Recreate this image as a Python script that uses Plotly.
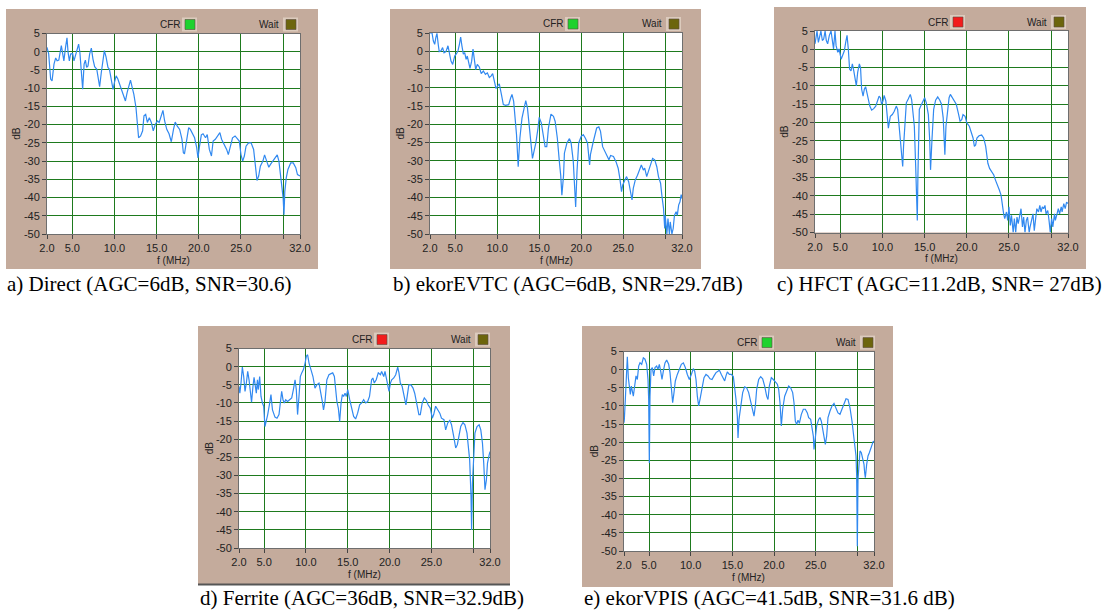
import plotly.graph_objects as go

W, H = 1106, 613

# ---------------- data (f in MHz, level in dB) ----------------
spec_a = [(2.0,1.2),(2.2,-0.6),(2.43,-7.5),(2.6,-8.0),(2.83,-3.4),(3.03,-1.7),(3.2,-2.5),(3.4,-2.3),
 (3.7,1.65),(3.86,-1.1),(4.0,-2.5),(4.2,1.2),(4.37,3.8),(4.5,-0.2),(4.65,-2.5),(4.8,-0.6),(5.04,-0.5),
 (5.2,-2.5),(5.44,-0.6),(5.75,2.1),(5.9,-0.2),(6.07,-6.1),(6.23,-10.3),(6.4,-3.4),(6.55,-2.3),(6.7,-4.3),
 (6.86,-3.9),(7.06,-0.6),(7.26,1.0),(7.45,-2.0),(7.65,-4.1),(7.9,-4.8),(8.1,-8.0),(8.24,-9.6),(8.44,-5.7),
 (8.64,-2.0),(8.8,0.3),(9.0,-1.4),(9.23,-4.3),(9.4,-4.8),(9.63,-7.5),(9.83,-10.3),(10.0,-8.4),(10.2,-6.6),
 (10.4,-7.5),(10.7,-9.4),(11.05,-12.1),(11.3,-13.5),(11.5,-11.2),(11.76,-8.4),(11.9,-7.8),(12.1,-9.8),
 (12.3,-11.7),(12.55,-15.3),(12.7,-20.8),(12.86,-23.6),(13.1,-23.1),(13.34,-21.7),(13.5,-17.6),(13.7,-17.2),
 (13.9,-19.4),(14.13,-18.1),(14.37,-19.4),(14.6,-21.7),(14.85,-19.9),(15.1,-19.0),(15.3,-19.4),(15.56,-17.2),
 (15.75,-16.1),(15.95,-19.0),(16.2,-21.3),(16.47,-22.5),(16.74,-24.7),(17.0,-21.3),(17.2,-19.3),(17.45,-20.4),
 (17.73,-21.3),(18.0,-24.0),(18.17,-27.7),(18.3,-28.0),(18.56,-24.5),(18.8,-20.8),(19.0,-21.3),(19.27,-22.7),
 (19.5,-23.6),(19.75,-26.3),(19.9,-29.1),(20.06,-26.3),(20.3,-22.8),(20.5,-22.5),(20.8,-23.6),(21.0,-22.7),
 (21.25,-26.8),(21.5,-28.6),(21.7,-24.5),(21.96,-24.0),(22.2,-23.1),(22.5,-22.2),(22.7,-24.0),(23.0,-25.4),
 (23.3,-26.8),(23.5,-28.2),(23.7,-26.3),(24.0,-23.6),(24.3,-23.1),(24.6,-23.8),(24.8,-24.5),(25.0,-28.2),
 (25.2,-30.0),(25.4,-28.6),(25.6,-25.9),(25.9,-25.0),(26.2,-25.0),(26.5,-26.8),(26.7,-31.8),(26.9,-35.3),
 (27.1,-34.1),(27.3,-31.4),(27.6,-30.0),(27.8,-28.3),(28.05,-30.0),(28.3,-31.7),(28.5,-30.9),(28.75,-30.0),
 (29.07,-28.9),(29.3,-28.3),(29.5,-30.0),(29.7,-33.7),(29.85,-36.0),(30.0,-40.1),(30.1,-44.7),(30.2,-38.3),
 (30.37,-34.6),(30.57,-32.3),(30.9,-30.5),(31.2,-30.5),(31.5,-31.8),(31.7,-33.7),(32.0,-34.1)]

spec_b = [(2.0,5.0),(2.24,5.0),(2.4,2.8),(2.56,1.9),(2.7,3.8),(2.83,4.9),(3.0,1.5),(3.1,-0.1),(3.3,0.1),
 (3.5,1.0),(3.67,-0.4),(3.9,-0.1),(4.14,1.5),(4.3,-0.4),(4.5,-2.7),(4.7,-3.6),(4.94,-1.3),(5.17,-0.6),
 (5.33,0.1),(5.5,1.9),(5.65,3.9),(5.8,1.5),(5.97,-0.8),(6.13,-0.4),(6.3,-2.2),(6.44,-1.3),(6.6,-3.1),
 (6.76,-4.7),(6.96,-2.7),(7.12,0.6),(7.28,-2.2),(7.44,-5.0),(7.63,-3.6),(7.87,-4.3),(8.1,-6.1),(8.35,-5.4),
 (8.6,-6.3),(8.83,-5.9),(9.06,-7.2),(9.26,-6.8),(9.46,-6.1),(9.66,-8.2),(9.86,-10.2),(10.05,-9.5),
 (10.25,-8.9),(10.5,-11.8),(10.73,-14.6),(11.0,-14.8),(11.37,-14.6),(11.6,-12.8),(11.76,-11.8),(11.96,-13.7),
 (12.16,-18.3),(12.3,-22.8),(12.5,-31.6),(12.7,-23.8),(12.95,-18.3),(13.2,-15.0),(13.4,-13.5),(13.6,-15.5),
 (13.8,-20.1),(14.06,-24.7),(14.2,-29.3),(14.38,-27.4),(14.6,-25.1),(14.86,-21.0),(15.0,-18.1),(15.25,-19.6),
 (15.5,-22.8),(15.7,-26.1),(15.9,-26.1),(16.1,-21.0),(16.4,-17.2),(16.7,-17.8),(16.9,-19.2),(17.16,-23.8),
 (17.4,-30.2),(17.56,-33.9),(17.7,-39.4),(17.9,-33.9),(18.0,-27.9),(18.3,-25.1),(18.6,-23.9),(18.8,-25.1),
 (19.06,-30.2),(19.2,-36.6),(19.34,-42.6),(19.5,-32.9),(19.7,-25.1),(20.0,-23.3),(20.25,-22.8),(20.5,-23.8),
 (20.75,-25.1),(21.0,-31.1),(21.1,-28.3),(21.4,-25.1),(21.6,-22.8),(21.84,-21.0),(22.1,-20.7),(22.3,-21.9),
 (22.55,-26.1),(22.8,-27.4),(23.0,-28.3),(23.3,-29.7),(23.5,-28.5),(23.84,-28.8),(24.14,-30.2),(24.4,-32.0),
 (24.6,-34.8),(24.8,-38.4),(24.94,-36.6),(25.2,-35.2),(25.4,-34.3),(25.65,-35.7),(25.9,-39.4),(26.05,-40.7),
 (26.2,-37.5),(26.44,-35.2),(26.7,-33.9),(26.9,-32.5),(27.16,-31.1),(27.4,-32.5),(27.56,-32.0),(27.8,-34.3),
 (28.03,-32.5),(28.27,-30.6),(28.5,-29.3),(28.75,-29.7),(29.0,-31.6),(29.2,-34.3),(29.45,-36.1),(29.6,-39.4),
 (29.8,-43.0),(29.94,-48.5),(30.0,-44.9),(30.2,-50.0),(30.33,-45.8),(30.5,-50.0),(30.6,-46.7),(30.8,-50.0),
 (30.95,-48.5),(31.1,-44.9),(31.3,-43.9),(31.44,-44.9),(31.6,-42.1),(31.76,-41.2),(31.9,-39.2),(32.0,-40.3)]

spec_c = [(2.0,1.5),(2.1,2.8),(2.24,5.0),(2.4,1.9),(2.55,3.8),(2.7,5.0),(2.87,2.4),(3.03,2.8),(3.2,5.0),
 (3.34,2.4),(3.5,1.5),(3.7,3.8),(3.9,5.0),(4.05,1.5),(4.2,0.1),(4.37,5.0),(4.5,1.0),(4.7,-0.8),(4.85,0.1),
 (5.1,-2.7),(5.24,-1.7),(5.48,-0.4),(5.64,1.9),(5.8,3.8),(5.95,0.1),(6.1,-5.4),(6.27,-5.9),(6.43,-4.0),
 (6.6,-5.9),(6.74,-8.6),(6.9,-10.0),(7.06,-6.3),(7.26,-4.0),(7.4,-5.0),(7.53,-10.9),(7.7,-12.8),(7.85,-10.9),
 (8.0,-10.2),(8.25,-12.8),(8.5,-15.5),(8.72,-16.6),(8.96,-16.2),(9.2,-15.5),(9.43,-14.1),(9.6,-12.8),
 (9.75,-13.2),(9.9,-15.0),(10.06,-14.1),(10.2,-12.6),(10.4,-14.1),(10.55,-18.3),(10.7,-21.5),(10.93,-18.3),
 (11.17,-17.8),(11.4,-16.9),(11.64,-15.5),(11.8,-16.4),(11.96,-21.0),(12.1,-25.6),(12.28,-29.3),(12.4,-32.0),
 (12.5,-26.5),(12.67,-19.2),(12.83,-14.6),(13.07,-13.5),(13.3,-12.3),(13.46,-13.7),(13.6,-17.8),(13.78,-21.0),
 (13.94,-32.0),(14.05,-39.4),(14.13,-46.7),(14.2,-34.8),(14.37,-16.4),(14.57,-15.3),(14.8,-14.1),(15.0,-13.2),
 (15.2,-14.6),(15.44,-17.8),(15.6,-24.7),(15.7,-32.9),(15.87,-24.7),(16.07,-16.4),(16.3,-13.9),(16.55,-13.0),
 (16.8,-13.9),(17.0,-15.0),(17.2,-18.7),(17.33,-23.8),(17.4,-28.8),(17.53,-21.0),(17.73,-15.5),(17.9,-13.2),
 (18.05,-12.3),(18.3,-13.2),(18.5,-14.1),(18.75,-15.0),(19.0,-17.5),(19.2,-19.6),(19.4,-19.2),(19.55,-17.8),
 (19.8,-18.3),(20.0,-20.1),(20.3,-21.0),(20.5,-22.4),(20.74,-24.2),(20.9,-26.5),(21.05,-26.1),(21.2,-24.2),
 (21.45,-23.6),(21.76,-23.4),(22.0,-24.2),(22.24,-26.5),(22.5,-31.1),(22.7,-32.5),(22.95,-33.4),(23.2,-34.3),
 (23.4,-35.7),(23.66,-37.1),(23.86,-38.4),(24.06,-39.8),(24.2,-43.0),(24.37,-44.9),(24.5,-46.2),(24.7,-44.4),
 (24.85,-46.7),(25.0,-43.0),(25.16,-48.1),(25.3,-45.3),(25.5,-50.0),(25.64,-46.2),(25.8,-50.0),(25.95,-45.8),
 (26.1,-47.6),(26.27,-45.3),(26.43,-43.5),(26.6,-48.5),(26.74,-45.8),(26.9,-50.0),(27.06,-46.7),(27.2,-45.8),
 (27.4,-50.0),(27.5,-48.5),(27.7,-46.2),(27.85,-44.9),(28.0,-49.5),(28.17,-44.9),(28.3,-43.5),(28.5,-44.4),
 (28.66,-42.6),(28.8,-44.4),(28.96,-43.0),(29.1,-43.5),(29.27,-42.6),(29.4,-44.9),(29.6,-44.0),(29.75,-46.7),
 (29.9,-50.0),(30.06,-46.2),(30.2,-48.5),(30.4,-44.9),(30.5,-46.7),(30.7,-44.9),(30.85,-43.5),(31.0,-44.9),
 (31.2,-43.0),(31.3,-44.4),(31.5,-42.1),(31.67,-43.5),(31.83,-41.7),(32.0,-42.1)]

spec_d = [(2.0,-5.4),(2.1,-7.3),(2.24,-4.5),(2.4,-0.1),(2.56,-2.7),(2.72,-6.8),(2.88,-4.5),(3.04,-1.3),
 (3.2,-3.6),(3.35,-7.3),(3.5,-9.8),(3.67,-5.4),(3.8,-2.9),(3.9,-4.5),(4.07,-7.3),(4.2,-3.6),(4.3,-6.3),
 (4.47,-2.7),(4.63,-8.2),(4.8,-10.0),(4.95,-10.9),(5.1,-16.5),(5.27,-15.1),(5.43,-13.2),(5.63,-10.5),
 (5.82,-7.7),(6.0,-11.9),(6.14,-13.2),(6.3,-13.9),(6.54,-14.2),(6.78,-13.2),(6.94,-10.0),(7.1,-6.8),
 (7.26,-9.1),(7.42,-10.0),(7.58,-9.1),(7.8,-9.6),(8.05,-9.1),(8.3,-8.6),(8.5,-6.3),(8.7,-3.6),(8.85,-6.3),
 (9.0,-13.2),(9.17,-8.2),(9.33,-2.7),(9.5,-1.7),(9.7,-0.8),(9.9,1.0),(10.05,2.9),(10.2,3.3),(10.37,1.0),
 (10.6,-0.8),(10.84,-2.7),(11.08,-5.9),(11.3,-5.0),(11.56,-4.5),(11.8,-7.3),(11.96,-9.6),(12.1,-11.9),
 (12.28,-9.6),(12.5,-3.6),(12.75,-2.2),(13.0,-1.9),(13.2,-1.7),(13.4,-2.7),(13.55,-6.3),(13.7,-9.6),
 (13.87,-11.4),(14.03,-15.1),(14.2,-10.0),(14.35,-7.7),(14.5,-8.2),(14.67,-7.3),(14.83,-8.2),(15.0,-6.3),
 (15.23,-9.1),(15.47,-11.9),(15.7,-13.7),(15.94,-14.4),(16.18,-12.8),(16.42,-10.5),(16.66,-10.0),(16.9,-9.1),
 (17.14,-10.0),(17.38,-9.6),(17.6,-8.2),(17.85,-3.6),(18.0,-3.1),(18.17,-4.5),(18.4,-3.6),(18.65,-1.7),
 (18.9,-2.2),(19.05,-1.3),(19.3,-2.7),(19.45,-1.3),(19.7,-4.5),(19.93,-6.8),(20.1,-4.5),(20.25,-3.6),
 (20.5,-3.1),(20.73,-2.2),(20.97,-0.1),(21.12,-1.7),(21.28,-4.5),(21.5,-5.4),(21.7,-7.7),(21.95,-10.5),
 (22.1,-8.2),(22.3,-5.0),(22.56,-5.0),(22.8,-5.9),(23.0,-7.3),(23.27,-10.0),(23.5,-13.2),(23.67,-13.2),
 (23.9,-10.0),(24.15,-8.6),(24.4,-9.3),(24.6,-10.5),(24.86,-11.4),(25.1,-14.2),(25.27,-13.2),(25.5,-10.9),
 (25.75,-11.9),(26.0,-12.8),(26.2,-14.2),(26.5,-14.6),(26.7,-17.4),(26.95,-15.5),(27.2,-14.8),(27.4,-16.0),
 (27.66,-19.2),(27.9,-22.4),(28.1,-21.5),(28.3,-18.3),(28.5,-16.5),(28.77,-15.4),(29.0,-16.0),(29.25,-18.3),
 (29.4,-21.1),(29.57,-25.7),(29.73,-35.8),(29.8,-45.0),(29.9,-32.1),(30.05,-23.8),(30.2,-18.3),(30.45,-16.5),
 (30.7,-16.0),(30.9,-17.4),(31.1,-21.1),(31.25,-26.6),(31.4,-33.9),(31.57,-31.2),(31.7,-26.6),(31.9,-24.3),
 (32.0,-23.4)]

spec_e = [(2.0,-14.6),(2.04,-13.7),(2.16,-8.2),(2.32,-0.8),(2.4,3.6),(2.52,-2.2),(2.64,-5.4),(2.76,-6.8),
 (2.88,-4.5),(3.0,-5.9),(3.12,-7.3),(3.28,-4.5),(3.44,-1.7),(3.6,-2.7),(3.76,1.0),(3.92,1.9),(4.12,1.5),
 (4.32,3.3),(4.52,2.9),(4.72,1.5),(4.88,-2.7),(4.96,-8.2),(5.04,-25.7),(5.12,-7.3),(5.24,0.1),(5.4,0.6),
 (5.56,-1.7),(5.72,0.6),(5.92,1.0),(6.08,0.1),(6.24,1.5),(6.4,-0.4),(6.56,-2.7),(6.72,-0.4),(6.92,1.9),
 (7.12,2.7),(7.36,1.5),(7.52,-0.8),(7.68,-4.5),(7.84,-9.1),(8.0,-6.3),(8.16,-3.1),(8.4,-1.3),(8.64,0.1),
 (8.88,1.5),(9.12,1.9),(9.36,0.6),(9.6,-1.3),(9.84,-2.7),(10.08,-1.3),(10.32,0.3),(10.48,-0.4),(10.64,-2.7),
 (10.8,-7.3),(10.96,-10.0),(11.12,-8.2),(11.36,-4.5),(11.6,-2.2),(11.84,-1.3),(12.08,-1.7),(12.32,-2.5),
 (12.56,-2.7),(12.8,-1.7),(13.04,-0.8),(13.28,-0.4),(13.44,-0.1),(13.68,-1.3),(13.92,-2.7),(14.08,-3.1),
 (14.24,-1.7),(14.4,-0.6),(14.64,-1.3),(14.88,-1.3),(15.12,-1.9),(15.28,-4.5),(15.44,-8.2),(15.6,-12.8),
 (15.68,-18.8),(15.8,-13.7),(16.0,-9.6),(16.24,-6.3),(16.48,-4.7),(16.72,-5.0),(16.96,-6.3),(17.2,-8.6),
 (17.44,-10.9),(17.6,-12.8),(17.76,-10.0),(17.92,-5.4),(18.16,-2.7),(18.4,-1.9),(18.64,-2.5),(18.88,-4.5),
 (19.12,-7.3),(19.28,-8.2),(19.44,-4.5),(19.68,-2.2),(19.92,-2.7),(20.16,-3.4),(20.4,-4.0),(20.56,-5.4),
 (20.72,-9.1),(20.88,-15.5),(21.04,-10.9),(21.28,-7.3),(21.52,-5.9),(21.76,-4.5),(22.0,-5.0),(22.24,-6.3),
 (22.4,-9.1),(22.56,-14.2),(22.72,-15.1),(22.88,-13.9),(23.04,-14.8),(23.28,-12.3),(23.52,-10.9),
 (23.76,-10.9),(24.0,-11.9),(24.16,-13.2),(24.4,-13.7),(24.56,-15.5),(24.72,-18.3),(24.8,-22.0),
 (24.96,-17.8),(25.12,-15.5),(25.36,-13.7),(25.52,-13.2),(25.68,-14.2),(25.84,-16.5),(26.0,-19.2),
 (26.16,-20.6),(26.32,-18.3),(26.48,-13.2),(26.72,-11.4),(26.96,-10.0),(27.2,-9.3),(27.44,-10.5),
 (27.68,-11.9),(27.92,-12.3),(28.16,-10.9),(28.4,-9.1),(28.64,-8.0),(28.88,-8.2),(29.12,-10.5),
 (29.36,-14.2),(29.52,-17.4),(29.68,-21.1),(29.84,-23.8),(29.92,-29.3),(30.0,-48.7),(30.08,-30.3),
 (30.2,-24.7),(30.32,-22.4),(30.48,-22.9),(30.64,-24.7),(30.8,-26.1),(30.88,-28.4),(30.96,-29.8),
 (31.12,-26.1),(31.28,-23.8),(31.44,-22.9),(31.6,-22.0),(31.76,-20.6),(31.92,-19.7),(32.0,-20.0)]

x_tickvals = [2, 5, 10, 15, 20, 25, 30, 32]
x_ticktext = ["2.0", "5.0", "10.0", "15.0", "20.0", "25.0", "", "32.0"]
y_tickvals = [5, 0, -5, -10, -15, -20, -25, -30, -35, -40, -45, -50]
y_ticktext = [str(v) for v in y_tickvals]

captions = ["a) Direct (AGC=6dB, SNR=30.6)",
            "b) ekorEVTC (AGC=6dB, SNR=29.7dB)",
            "c) HFCT (AGC=11.2dB, SNR= 27dB)",
            "d) Ferrite (AGC=36dB, SNR=32.9dB)",
            "e) ekorVPIS (AGC=41.5dB, SNR=31.6 dB)"]
cfr_state = ["green", "green", "red", "red", "green"]
spectra = [spec_a, spec_b, spec_c, spec_d, spec_e]

# ---------------- layout geometry (pixels) ----------------
plot_px = [(47, 300, 33.5, 234), (430, 682, 33, 234), (815, 1068, 31, 232.5),
           (239, 490, 348.6, 548), (624, 874, 351.6, 551)]
box_px = [(6, 318, 9, 269), (390, 701, 9, 269), (774, 1086, 7, 269),
          (198, 510, 326, 584), (582, 893, 326, 587)]
cap_px = [(5, 284), (391, 284), (775, 284), (198, 598), (582, 598)]

BROWN = "#c4ab9c"
GRID = "#1e7a1e"
TRACE = "#3189f0"
LAMP = {"green": "#1ed22e", "red": "#f21c1c", "olive": "#6c650c"}
SANS = "Liberation Sans, Arial"


def xp(px):
    return px / W


def yp(py):
    return 1 - py / H


fig = go.Figure()
shapes, annotations = [], []
layout = {}

for i, (spec, pa, bx, cp, cap, cfr) in enumerate(
        zip(spectra, plot_px, box_px, cap_px, captions, cfr_state)):
    n = "" if i == 0 else str(i + 1)
    f = [p[0] for p in spec]
    db = [p[1] for p in spec]
    fig.add_trace(go.Scatter(x=f, y=db, mode="lines", xaxis="x" + n, yaxis="y" + n,
                             line=dict(color=TRACE, width=1.2), showlegend=False,
                             hoverinfo="skip"))
    l, r, t, b = pa
    common = dict(showgrid=True, gridcolor=GRID, gridwidth=1.4, zeroline=False,
                  showline=True, linecolor="#6e6e6e", linewidth=1, mirror=True,
                  ticks="outside", ticklen=4, tickcolor="#444444", automargin=False,
                  tickfont=dict(family=SANS, size=11, color="#222222"), fixedrange=True)
    layout["xaxis" + n] = dict(domain=[xp(l), xp(r)], range=[2, 32], anchor="y" + n,
                               tickmode="array", tickvals=x_tickvals, ticktext=x_ticktext,
                               **common)
    layout["yaxis" + n] = dict(domain=[yp(b), yp(t)], range=[-50, 5], anchor="x" + n,
                               tickmode="array", tickvals=y_tickvals, ticktext=y_ticktext,
                               **common)

    # panel background and white plot area
    shapes.append(dict(type="rect", xref="paper", yref="paper", layer="below",
                       x0=xp(bx[0]), x1=xp(bx[1]), y0=yp(bx[3]), y1=yp(bx[2]),
                       fillcolor=BROWN, line=dict(width=0)))
    shapes.append(dict(type="rect", xref="paper", yref="paper", layer="below",
                       x0=xp(l), x1=xp(r), y0=yp(b), y1=yp(t),
                       fillcolor="white", line=dict(width=0)))

    # indicator lamps
    for (tx, label, sx0, color) in [(l + 123, "CFR", l + 135, LAMP[cfr]),
                                    (l + 222, "Wait", l + 236, LAMP["olive"])]:
        annotations.append(dict(x=xp(tx), y=yp(t - 9), xref="paper", yref="paper",
                                text=label, showarrow=False, xanchor="center",
                                yanchor="middle",
                                font=dict(family=SANS, size=10, color="#222222")))
        shapes.append(dict(type="rect", xref="paper", yref="paper",
                           x0=xp(sx0), x1=xp(sx0 + 15), y0=yp(t - 2), y1=yp(t - 16),
                           fillcolor="#dccbbd", line=dict(width=0)))
        shapes.append(dict(type="rect", xref="paper", yref="paper",
                           x0=xp(sx0 + 3), x1=xp(sx0 + 13), y0=yp(t - 4), y1=yp(t - 14),
                           fillcolor=color, line=dict(color="#5a4a40", width=0.6)))

    # axis titles
    annotations.append(dict(x=xp(l - 30), y=yp((t + b) / 2), xref="paper", yref="paper",
                            text="dB", textangle=-90, showarrow=False,
                            xanchor="center", yanchor="middle",
                            font=dict(family=SANS, size=10, color="#222222")))
    annotations.append(dict(x=xp((l + r) / 2), y=yp(b + 26), xref="paper", yref="paper",
                            text="f (MHz)", showarrow=False,
                            xanchor="center", yanchor="middle",
                            font=dict(family=SANS, size=10, color="#222222")))
    # caption
    annotations.append(dict(x=xp(cp[0]), y=yp(cp[1]), xref="paper", yref="paper",
                            text=cap, showarrow=False, xanchor="left", yanchor="middle",
                            font=dict(family="Liberation Serif, Times New Roman", size=21,
                                      color="black")))

# dark rule under panel d
shapes.append(dict(type="line", xref="paper", yref="paper",
                   x0=xp(198), x1=xp(510), y0=yp(584.5), y1=yp(584.5),
                   line=dict(color="#555555", width=2)))

fig.update_layout(template="none", width=W, height=H,
                  margin=dict(l=0, r=0, t=0, b=0, pad=0, autoexpand=False),
                  paper_bgcolor="white", plot_bgcolor="white",
                  shapes=shapes, annotations=annotations, showlegend=False,
                  **layout)

# remove the browser's default 8px page margin so the figure sits at the window origin
fig.write_html("out.html",
               config={"displayModeBar": False},
               post_script="document.body.style.margin='0px';"
                           "document.body.style.overflow='hidden';")
